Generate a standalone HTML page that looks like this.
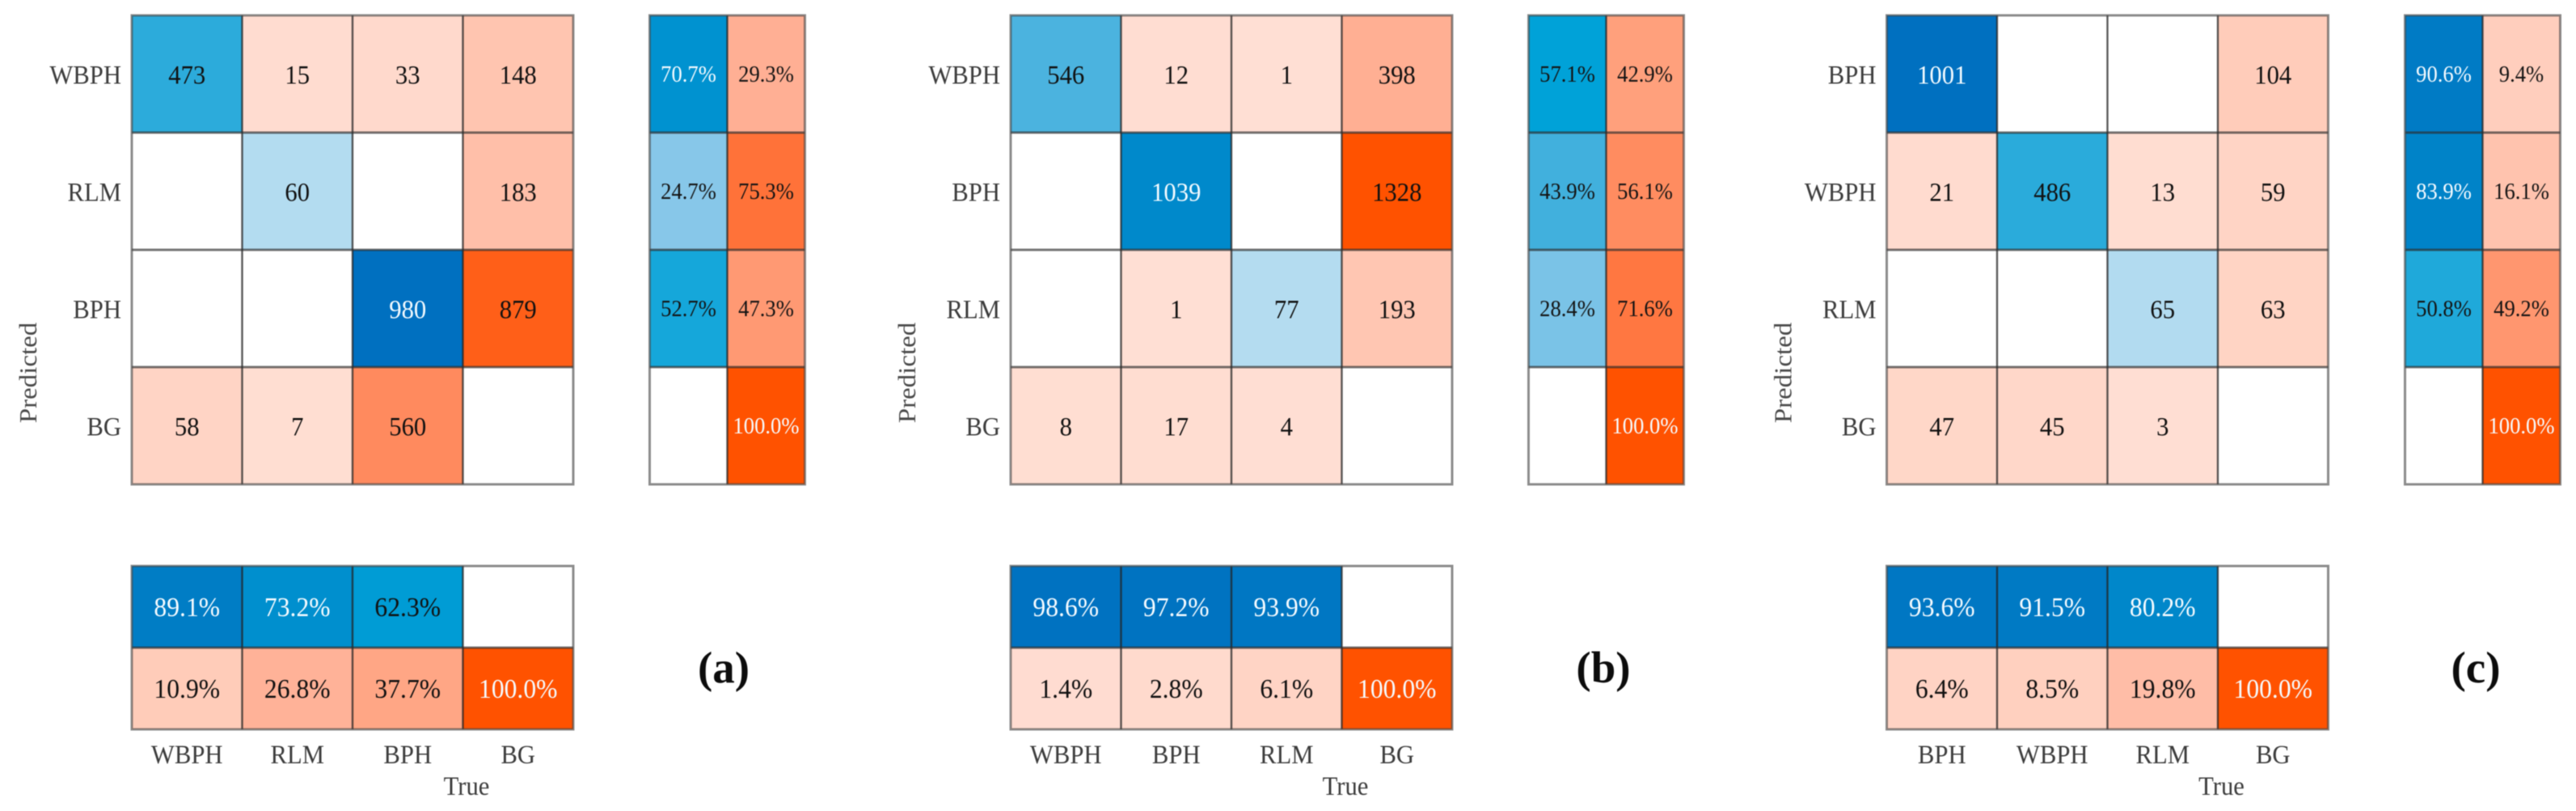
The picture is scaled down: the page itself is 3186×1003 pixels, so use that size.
<!DOCTYPE html>
<html lang="en">
<head>
<meta charset="utf-8">
<title>Confusion matrices (a), (b), (c)</title>
<style>
  html, body { margin: 0; padding: 0; background: #fff; width: 3186px; height: 1003px; overflow: hidden; }
  svg { display: block; filter: blur(0.6px); }
  text { font-family: "Liberation Serif", "DejaVu Serif", serif; }
</style>
</head>
<body>
<svg id="chart" xmlns="http://www.w3.org/2000/svg" width="3186" height="1003" viewBox="0 0 3186 1003"></svg>
<script>
// ---- Data ----
const classesA = ["WBPH", "RLM", "BPH", "BG"];
const classesB = ["WBPH", "BPH", "RLM", "BG"];
const classesC = ["BPH", "WBPH", "RLM", "BG"];

const countsA = [[473, 15, 33, 148], [null, 60, null, 183], [null, null, 980, 879], [58, 7, 560, null]];
const countsB = [[546, 12, 1, 398], [null, 1039, null, 1328], [null, 1, 77, 193], [8, 17, 4, null]];
const countsC = [[1001, null, null, 104], [21, 486, 13, 59], [null, null, 65, 63], [47, 45, 3, null]];

const rowCorrectA = [70.7, 24.7, 52.7, null];
const rowWrongA = [29.3, 75.3, 47.3, 100.0];
const rowCorrectB = [57.1, 43.9, 28.4, null];
const rowWrongB = [42.9, 56.1, 71.6, 100.0];
const rowCorrectC = [90.6, 83.9, 50.8, null];
const rowWrongC = [9.4, 16.1, 49.2, 100.0];

const colCorrectA = [89.1, 73.2, 62.3, null];
const colWrongA = [10.9, 26.8, 37.7, 100.0];
const colCorrectB = [98.6, 97.2, 93.9, null];
const colWrongB = [1.4, 2.8, 6.1, 100.0];
const colCorrectC = [93.6, 91.5, 80.2, null];
const colWrongC = [6.4, 8.5, 19.8, 100.0];

const panelLetters = ["(a)", "(b)", "(c)"];

// ---- Layout ----
const SVG_NS = "http://www.w3.org/2000/svg";
const svg = document.getElementById("chart");

const CELL_W = 136.5, CELL_H = 145, TOP = 19;
const SIDE_CELL_W = 96;
const STRIP_TOP = 700, STRIP_H = 101;
const X_SQUEEZE = 0.93;

const layouts = [
  { key: "a", left: 163, side: 803.5, letterX: 895 },
  { key: "b", left: 1250, side: 1890.5, letterX: 1983 },
  { key: "c", left: 2333.5, side: 2974.5, letterX: 3062 }
];

function xMain(layout, col) { return layout.left + col * CELL_W; }
function yMain(row) { return TOP + row * CELL_H; }
function xSide(layout, col) { return layout.side + col * SIDE_CELL_W; }
function yStrip(row) { return STRIP_TOP + row * STRIP_H; }

// ---- Colour ramps ----
const blueStops = [[0, [195, 228, 244]], [0.06, [179, 220, 240]], [0.25, [134, 199, 233]], [0.44, [65, 176, 221]], [0.57, [0, 162, 216]], [0.8, [0, 135, 202]], [1, [0, 112, 192]]];
const redStops = [[0, [255, 223, 212]], [0.1, [255, 205, 187]], [0.27, [255, 178, 152]], [0.43, [255, 160, 124]], [0.56, [255, 140, 96]], [0.75, [255, 114, 58]], [1, [255, 82, 0]]];

function ramp(stops, t) {
  const v = Math.max(0, Math.min(1, t));
  for (let i = 1; i < stops.length; i++) {
    if (v <= stops[i][0]) {
      const a = stops[i - 1], b = stops[i];
      const f = (v - a[0]) / (b[0] - a[0]);
      const c = a[1].map(function (p, k) { return Math.round(p + (b[1][k] - p) * f); });
      return "rgb(" + c.join(",") + ")";
    }
  }
  return "rgb(" + stops[stops.length - 1][1].join(",") + ")";
}

// ---- Drawing helpers ----
function drawCell(parent, x, y, w, h, fill, name) {
  const el = document.createElementNS(SVG_NS, "rect");
  el.setAttribute("x", x);
  el.setAttribute("y", y);
  el.setAttribute("width", w);
  el.setAttribute("height", h);
  el.setAttribute("fill", fill);
  
  
  parent.appendChild(el);
}

function drawText(parent, str, x, y, size, fill, anchor, squeeze, name, bold) {
  const el = document.createElementNS(SVG_NS, "text");
  el.textContent = str;
  el.setAttribute("transform", "translate(" + x + "," + y + ") scale(" + squeeze + ",1)");
  el.setAttribute("font-size", size);
  el.setAttribute("fill", fill);
  el.setAttribute("text-anchor", anchor);
  if (bold) el.setAttribute("font-weight", "bold");
  
  
  parent.appendChild(el);
}

function drawLine(parent, x1, y1, x2, y2, stroke, width, name) {
  const el = document.createElementNS(SVG_NS, "line");
  el.setAttribute("x1", x1);
  el.setAttribute("y1", y1);
  el.setAttribute("x2", x2);
  el.setAttribute("y2", y2);
  el.setAttribute("stroke", stroke);
  el.setAttribute("stroke-width", width);
  
  
  parent.appendChild(el);
}

function drawGrid(parent, x0, y0, cw, ch, cols, rows, name) {
  for (let c = 1; c < cols; c++) {
    drawLine(parent, x0 + c * cw, y0, x0 + c * cw, y0 + rows * ch, "rgba(35,35,35,0.75)", 2.4, name + "-vertical-line");
  }
  for (let r = 1; r < rows; r++) {
    drawLine(parent, x0, y0 + r * ch, x0 + cols * cw, y0 + r * ch, "rgba(45,45,45,0.65)", 3, name + "-horizontal-line");
  }
  const el = document.createElementNS(SVG_NS, "rect");
  el.setAttribute("x", x0);
  el.setAttribute("y", y0);
  el.setAttribute("width", cols * cw);
  el.setAttribute("height", rows * ch);
  el.setAttribute("fill", "none");
  el.setAttribute("stroke", "rgba(70,70,70,0.62)");
  el.setAttribute("stroke-width", 3);
  
  
  parent.appendChild(el);
}

function newGroup(name) {
  const g = document.createElementNS(SVG_NS, "g");
  
  
  svg.appendChild(g);
  return g;
}

// ---- Panels ----
function percentText(v) { return v.toFixed(1) + "%"; }

function drawMain(layout, classes, counts) {
  const g = newGroup("count-matrix-" + layout.key);
  let maxValue = 0;
  counts.forEach(function (row) {
    row.forEach(function (v) { if (v !== null && v > maxValue) maxValue = v; });
  });
  counts.forEach(function (row, r) {
    row.forEach(function (v, c) {
      if (v === null) return;
      const t = v / maxValue;
      const diagonal = r === c;
      const fill = ramp(diagonal ? blueStops : redStops, t);
      drawCell(g, xMain(layout, c), yMain(r), CELL_W, CELL_H, fill, "count-cell-" + classes[r] + "-" + classes[c]);
      const ink = diagonal && t > 0.7 ? "#f4fbff" : "#111";
      drawText(g, String(v), xMain(layout, c) + CELL_W / 2, yMain(r) + CELL_H / 2 + 12, 33, ink, "middle", X_SQUEEZE, "count-value-" + classes[r] + "-" + classes[c]);
    });
  });
  drawGrid(g, xMain(layout, 0), yMain(0), CELL_W, CELL_H, 4, 4, "count-matrix");
  classes.forEach(function (label, r) {
    drawText(g, label, xMain(layout, 0) - 13, yMain(r) + CELL_H / 2 + 12, 33, "#3c3c3c", "end", X_SQUEEZE, "y-tick-label-" + label);
  });
  const py = document.createElementNS(SVG_NS, "text");
  py.textContent = "Predicted";
  py.setAttribute("transform", "translate(" + (xMain(layout, 0) - 118) + ",461) scale(" + X_SQUEEZE + ",1) rotate(-90)");
  py.setAttribute("font-size", 33);
  py.setAttribute("fill", "#4a4a4a");
  py.setAttribute("text-anchor", "middle");
  
  
  g.appendChild(py);
}

function drawSide(layout, correct, wrong) {
  const g = newGroup("row-summary-" + layout.key);
  [correct, wrong].forEach(function (series, c) {
    series.forEach(function (v, r) {
      if (v === null) return;
      const t = v / 100;
      const fill = ramp(c === 0 ? blueStops : redStops, t);
      drawCell(g, xSide(layout, c), yMain(r), SIDE_CELL_W, CELL_H, fill, "row-summary-cell");
      const ink = (c === 0 && t > 0.65) || t >= 0.999 ? "#f6fbff" : "#141414";
      drawText(g, percentText(v), xSide(layout, c) + SIDE_CELL_W / 2, yMain(r) + CELL_H / 2 + 9.5, 28, ink, "middle", 0.95, "row-summary-value");
    });
  });
  drawGrid(g, xSide(layout, 0), yMain(0), SIDE_CELL_W, CELL_H, 2, 4, "row-summary");
}

function drawStrip(layout, classes, correct, wrong) {
  const g = newGroup("column-summary-" + layout.key);
  [correct, wrong].forEach(function (series, r) {
    series.forEach(function (v, c) {
      if (v === null) return;
      const t = v / 100;
      const fill = ramp(r === 0 ? blueStops : redStops, t);
      drawCell(g, xMain(layout, c), yStrip(r), CELL_W, STRIP_H, fill, "column-summary-cell");
      const ink = (r === 0 && t > 0.65) || t >= 0.999 ? "#f6fbff" : "#111";
      drawText(g, percentText(v), xMain(layout, c) + CELL_W / 2, yStrip(r) + STRIP_H / 2 + 11.5, 34, ink, "middle", X_SQUEEZE, "column-summary-value");
    });
  });
  drawGrid(g, xMain(layout, 0), yStrip(0), CELL_W, STRIP_H, 4, 2, "column-summary");
  classes.forEach(function (label, c) {
    drawText(g, label, xMain(layout, c) + CELL_W / 2, 944, 33, "#3c3c3c", "middle", X_SQUEEZE, "x-tick-label-" + label);
  });
  drawText(g, "True", xMain(layout, 2) + 141, 983, 33, "#3c3c3c", "middle", X_SQUEEZE, "x-axis-title");
}

function drawPanel(layout, classes, counts, rowCorrect, rowWrong, colCorrect, colWrong, letter) {
  drawMain(layout, classes, counts);
  drawSide(layout, rowCorrect, rowWrong);
  drawStrip(layout, classes, colCorrect, colWrong);
  drawText(svg, letter, layout.letterX, 844, 55, "#0c0c0c", "middle", 1, "panel-label-" + layout.key, true);
}

drawPanel(layouts[0], classesA, countsA, rowCorrectA, rowWrongA, colCorrectA, colWrongA, panelLetters[0]);
drawPanel(layouts[1], classesB, countsB, rowCorrectB, rowWrongB, colCorrectB, colWrongB, panelLetters[1]);
drawPanel(layouts[2], classesC, countsC, rowCorrectC, rowWrongC, colCorrectC, colWrongC, panelLetters[2]);
</script>
</body>
</html>
